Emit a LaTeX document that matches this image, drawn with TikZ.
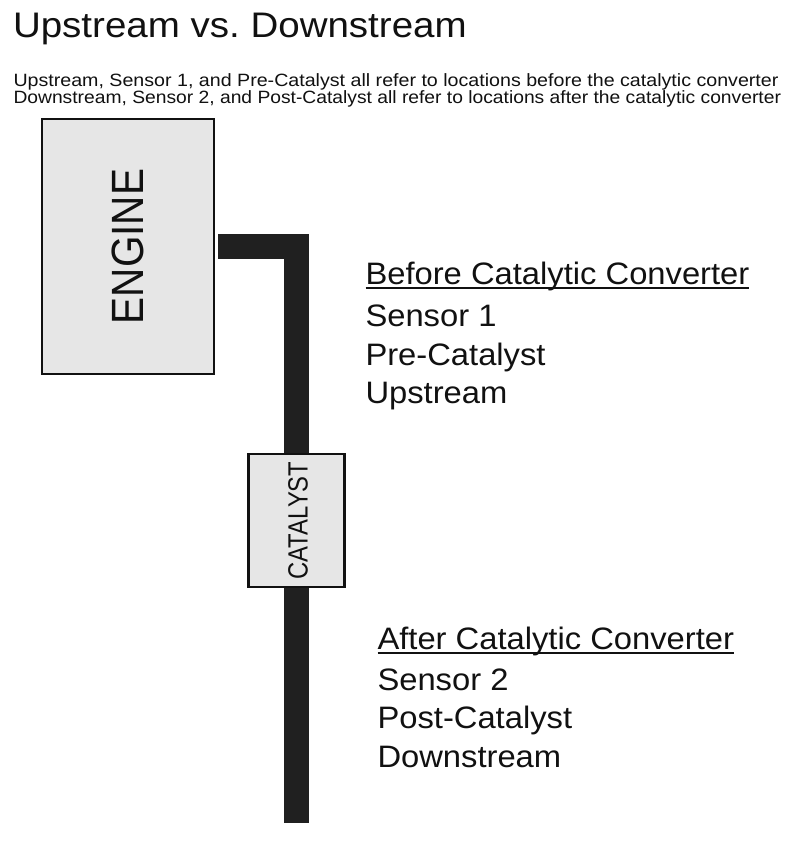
\documentclass[tikz,border=0pt]{standalone}
\usepackage{graphicx}
\usepackage{fontspec}
\setmainfont{Liberation Sans}
\usetikzlibrary{backgrounds}
\definecolor{boxfill}{HTML}{E6E6E6}
\definecolor{pipecol}{HTML}{202020}
\definecolor{ink}{HTML}{111111}
\begin{document}
\begin{tikzpicture}[x=1pt,y=-1pt,
  txt/.style={inner sep=0pt, outer sep=0pt, anchor=base west, text=ink},
  unit/.style={draw=ink, line width=2.2pt, fill=boxfill, inner sep=0pt, text=ink},
  pipe/.style={draw=pipecol, line width=24.5pt, line join=miter, line cap=butt},
  uline/.style={draw=ink, line width=2pt}]
\useasboundingbox (0,0) rectangle (800,844);
% title and subtitle
\node[txt] (title) at (13,37) {\fontsize{35.5}{40}\selectfont\scalebox{1.085}[1]{Upstream vs.\ Downstream}};
\node[txt] (sub1) at (13.5,86.7) {\fontsize{17.8}{20}\selectfont\scalebox{1.103}[1]{Upstream, Sensor 1, and Pre-Catalyst all refer to locations before the catalytic converter}};
\node[txt] (sub2) at (13.5,103.3) {\fontsize{17.8}{20}\selectfont\scalebox{1.082}[1]{Downstream, Sensor 2, and Post-Catalyst all refer to locations after the catalytic converter}};
% engine and catalyst
\node[unit, minimum width=172pt, minimum height=255pt] (engine) at (128,246.5)
  {\rotatebox{90}{\fontsize{40.5}{41}\selectfont\scalebox{1}[1.117]{ENGINE}}};
\node[unit, minimum width=96pt, minimum height=133pt] (catalyst) at (296.5,520.5)
  {\hspace{3pt}\rotatebox{90}{\fontsize{23.8}{25}\selectfont\scalebox{1}[1.17]{CATALYST}}};
\coordinate (exhaust) at (296.5,823);
\begin{scope}[on background layer]
  \fill[white] (0,0) rectangle (800,844);
  \draw[pipe] ([xshift=3pt]engine.east) -| (catalyst.center) -- (exhaust);
\end{scope}
% before block
\node[txt] (h1) at (365.5,284) {\fontsize{31}{39}\selectfont\scalebox{1.056}[1]{Before Catalytic Converter}};
\draw[uline] ([yshift=-4.3pt]h1.base west) -- ([yshift=-4.3pt]h1.base east);
\node[txt] (b1) at (365.5,326) {\fontsize{31}{39}\selectfont\scalebox{1.056}[1]{Sensor 1}};
\node[txt] (b2) at (365.5,365) {\fontsize{31}{39}\selectfont\scalebox{1.056}[1]{Pre-Catalyst}};
\node[txt] (b3) at (365.5,403.5) {\fontsize{31}{39}\selectfont\scalebox{1.056}[1]{Upstream}};
% after block
\node[txt] (h2) at (377.5,649) {\fontsize{31}{39}\selectfont\scalebox{1.056}[1]{After Catalytic Converter}};
\draw[uline] ([yshift=-4.3pt]h2.base west) -- ([yshift=-4.3pt]h2.base east);
\node[txt] (a1) at (377.5,690) {\fontsize{31}{39}\selectfont\scalebox{1.056}[1]{Sensor 2}};
\node[txt] (a2) at (377.5,728.5) {\fontsize{31}{39}\selectfont\scalebox{1.056}[1]{Post-Catalyst}};
\node[txt] (a3) at (377.5,767) {\fontsize{31}{39}\selectfont\scalebox{1.056}[1]{Downstream}};
\end{tikzpicture}
\end{document}
